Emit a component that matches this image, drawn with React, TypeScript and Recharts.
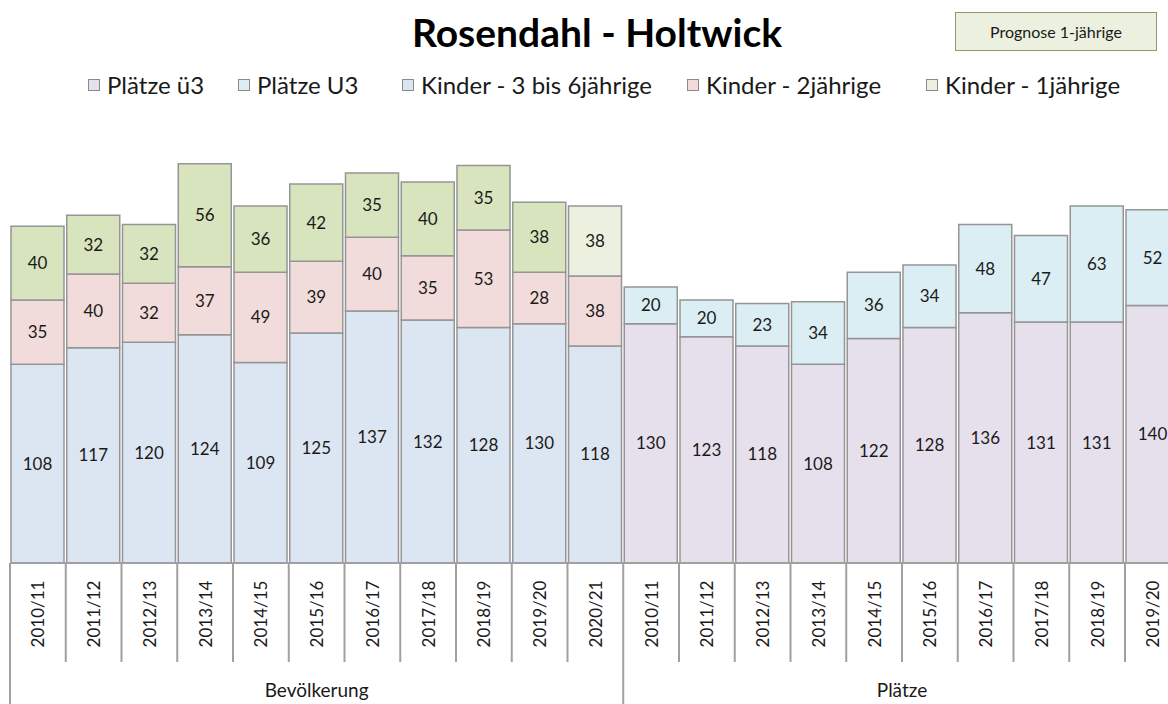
import React from "react";
import { Bar, BarChart, Cell, LabelList, XAxis, YAxis } from "recharts";

const years = [
  "2010/11", "2011/12", "2012/13", "2013/14", "2014/15", "2015/16",
  "2016/17", "2017/18", "2018/19", "2019/20", "2020/21",
];
const platzYears = [
  "2010/11", "2011/12", "2012/13", "2013/14", "2014/15", "2015/16",
  "2016/17", "2017/18", "2018/19", "2019/20",
];

const kinder36 = [108, 117, 120, 124, 109, 125, 137, 132, 128, 130, 118];
const kinder2 = [35, 40, 32, 37, 49, 39, 40, 35, 53, 28, 38];
const kinder1 = [40, 32, 32, 56, 36, 42, 35, 40, 35, 38, 38];
const prognoseYears = ["2020/21"];

const plaetzeUe3 = [130, 123, 118, 108, 122, 128, 136, 131, 131, 140];
const plaetzeU3 = [20, 20, 23, 34, 36, 34, 48, 47, 63, 52];

const groups = ["Bevölkerung", "Plätze"];

const legendItems = [
  { name: "Plätze ü3", color: "#E6E0EC", left: 88 },
  { name: "Plätze U3", color: "#DBEEF4", left: 238 },
  { name: "Kinder - 3 bis 6jährige", color: "#DCE6F2", left: 402 },
  { name: "Kinder - 2jährige", color: "#F2DCDB", left: 687 },
  { name: "Kinder - 1jährige", color: "#EBF1DE", left: 926 },
];

const rows = [
  ...years.map((y, i) => ({
    year: y,
    group: 0,
    k36: kinder36[i],
    k2: kinder2[i],
    k1: kinder1[i],
    prognose: prognoseYears.includes(y),
  })),
  ...platzYears.map((y, i) => ({
    year: y,
    group: 1,
    ue3: plaetzeUe3[i],
    u3: plaetzeU3[i],
    prognose: false,
  })),
].map((r, i) => ({ ...r, idx: i }));

const W = 1200;
const H = 704;
const LEFT = 10;
const BAND = 55.75;
const RIGHT = W - LEFT - BAND * rows.length;
const BASE = 563;
const LINE = "#a0a0a0";
const BORDER = "#959595";

const CategoryTick = (props: any) => {
  const { x, y, payload } = props;
  const i = payload.index;
  const row = rows[i];
  const left = x - BAND / 2;
  const groupStart = i === 0 || rows[i - 1].group !== row.group;
  const groupCount = rows.filter((r) => r.group === row.group).length;
  const cy = y + 51;
  return (
    <g>
      <line
        x1={left}
        x2={left}
        y1={y}
        y2={groupStart ? H : y + 99}
        stroke={LINE}
        strokeWidth={2}
      />
      {i === rows.length - 1 && (
        <line x1={x + BAND / 2} x2={x + BAND / 2} y1={y} y2={H} stroke={LINE} strokeWidth={2} />
      )}
      <text
        x={x}
        y={cy}
        transform={`rotate(-90, ${x}, ${cy})`}
        textAnchor="middle"
        dominantBaseline="central"
        fontSize={17}
        fill="#1a1a1a"
      >
        {row.year}
      </text>
      {groupStart && (
        <text
          x={left + (groupCount * BAND) / 2}
          y={y + 126}
          textAnchor="middle"
          dominantBaseline="central"
          fontSize={19}
          fill="#1a1a1a"
        >
          {groups[row.group]}
        </text>
      )}
    </g>
  );
};

const labelStyle = { fontSize: 17, fill: "#1a1a1a" };

export default function App() {
  return (
    <div
      style={{
        position: "absolute",
        left: 0,
        top: 0,
        width: 1168,
        height: 704,
        overflow: "hidden",
        background: "#fff",
        fontFamily: "Lato, 'Open Sans', sans-serif",
      }}
    >
      <div
        style={{
          position: "absolute",
          left: 0,
          width: 1194,
          top: 9,
          textAlign: "center",
          fontSize: 39,
          fontWeight: 700,
          color: "#000",
        }}
      >
        Rosendahl - Holtwick
      </div>
      <div
        style={{
          position: "absolute",
          left: 955,
          top: 12,
          width: 200,
          height: 37,
          background: "#EBF1DE",
          border: "1.5px solid #8c9a6c",
          fontSize: 16,
          lineHeight: "37px",
          textAlign: "center",
          color: "#1a1a1a",
        }}
      >
        Prognose 1-jährige
      </div>
      {legendItems.map((it) => (
        <div
          key={it.name}
          style={{
            position: "absolute",
            left: it.left,
            top: 70,
            fontSize: 24,
            color: "#1a1a1a",
            whiteSpace: "nowrap",
            display: "flex",
            alignItems: "center",
          }}
        >
          <span
            style={{
              display: "inline-block",
              width: 10,
              height: 10,
              background: it.color,
              border: "1px solid #8a8a8a",
              marginRight: 7,
            }}
          />
          {it.name}
        </div>
      ))}
      <div style={{ position: "absolute", left: 0, top: 0 }}>
        <BarChart
          width={W}
          height={H}
          data={rows}
          margin={{ top: BASE - 250 * 1.84, right: RIGHT, bottom: 0, left: LEFT }}
        >
          <YAxis hide domain={[0, 250]} />
          <XAxis
            dataKey="idx"
            height={H - BASE}
            interval={0}
            tickLine={false}
            tickSize={0}
            tickMargin={0}
            axisLine={{ stroke: LINE, strokeWidth: 2 }}
            tick={<CategoryTick />}
          />
          <Bar dataKey="k36" stackId="a" fill="#DCE6F2" stroke={BORDER} strokeWidth={1.5} barSize={53} isAnimationActive={false}>
            <LabelList dataKey="k36" position="center" style={labelStyle} />
          </Bar>
          <Bar dataKey="k2" stackId="a" fill="#F2DCDB" stroke={BORDER} strokeWidth={1.5} barSize={53} isAnimationActive={false}>
            <LabelList dataKey="k2" position="center" style={labelStyle} />
          </Bar>
          <Bar dataKey="k1" stackId="a" fill="#D7E4BD" stroke={BORDER} strokeWidth={1.5} barSize={53} isAnimationActive={false}>
            {rows.map((r) => (
              <Cell key={r.idx} fill={r.prognose ? "#EBF1DE" : "#D7E4BD"} />
            ))}
            <LabelList dataKey="k1" position="center" style={labelStyle} />
          </Bar>
          <Bar dataKey="ue3" stackId="a" fill="#E6E0EC" stroke={BORDER} strokeWidth={1.5} barSize={53} isAnimationActive={false}>
            <LabelList dataKey="ue3" position="center" style={labelStyle} />
          </Bar>
          <Bar dataKey="u3" stackId="a" fill="#DBEEF4" stroke={BORDER} strokeWidth={1.5} barSize={53} isAnimationActive={false}>
            <LabelList dataKey="u3" position="center" style={labelStyle} />
          </Bar>
        </BarChart>
      </div>
    </div>
  );
}
